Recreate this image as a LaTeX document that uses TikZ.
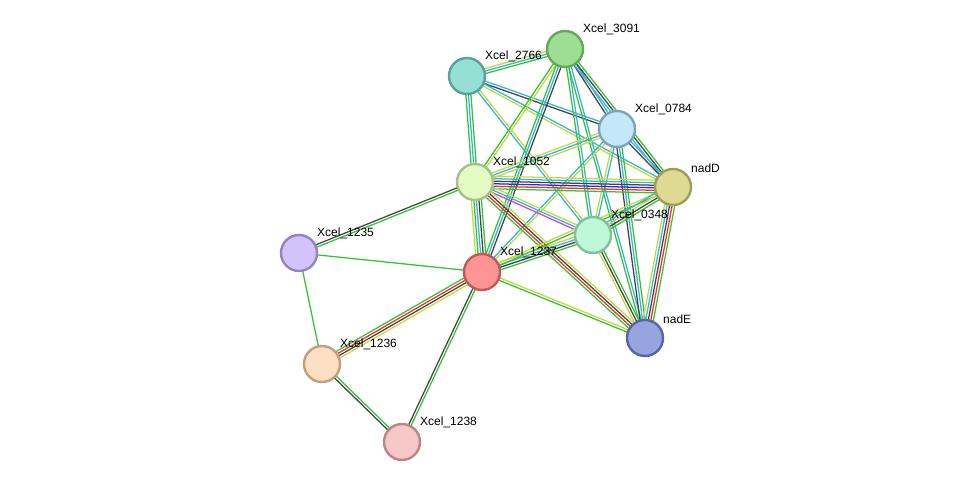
\documentclass[tikz,border=0pt]{standalone}
\usepackage{fontspec}
\setmainfont{Liberation Sans}
\usetikzlibrary{calc,backgrounds}
\definecolor{lkgreen}{HTML}{33C433}
\definecolor{lkyellow}{HTML}{C4D940}
\definecolor{lkcyan}{HTML}{33B5DB}
\definecolor{lkgray}{HTML}{444444}
\definecolor{lkred}{HTML}{F03030}
\definecolor{lkblue}{HTML}{2828E6}
\definecolor{lkpink}{HTML}{D840D8}

% one evidence channel per coloured line, side by side
\newcommand{\strlink}[3]{%
  \foreach \c [count=\k] in {#3}{\xdef\nlines{\k}}%
  \foreach \c [count=\k] in {#3}{%
    \pgfmathsetmacro{\off}{(\k-(\nlines+1)/2)*1.9}%
    \draw[link, \c] ($(#1)!\off pt!90:(#2)$) -- ($(#2)!\off pt!-90:(#1)$);
  }%
}

\begin{document}
\begin{tikzpicture}[
      x=0.75pt, y=-0.75pt,
      prot/.style={circle, minimum size=27pt, inner sep=0pt, line width=1.8pt,
                   label={[lbl]north east:#1}},
      lbl/.style={font=\fontsize{9pt}{10pt}\selectfont, text=black,
                  label distance=-0.6pt, inner sep=2.5pt,
                  xshift=1.2pt, yshift=-1.5pt},
      link/.style={line width=0.95pt},
    ]
      \useasboundingbox (0,0) rectangle (976,488);

      \node[prot=Xcel\_3091, fill={rgb,255:red,158;green,222;blue,148}, draw={rgb,255:red,100;green,168;blue,90}] (x3091) at (565,49) {};
      \node[prot=Xcel\_2766, fill={rgb,255:red,148;green,224;blue,212}, draw={rgb,255:red,90;green,163;blue,154}] (x2766) at (467,76) {};
      \node[prot=Xcel\_0784, fill={rgb,255:red,196;green,232;blue,250}, draw={rgb,255:red,127;green,163;blue,184}] (x0784) at (617,129) {};
      \node[prot=nadD, fill={rgb,255:red,222;green,218;blue,148}, draw={rgb,255:red,160;green,156;blue,90}] (nadD) at (673,187) {};
      \node[prot=Xcel\_1052, fill={rgb,255:red,226;green,252;blue,196}, draw={rgb,255:red,165;green,192;blue,138}] (x1052) at (475,182) {};
      \node[prot=Xcel\_0348, fill={rgb,255:red,191;green,247;blue,217}, draw={rgb,255:red,132;green,192;blue,156}] (x0348) at (593,235) {};
      \node[prot=Xcel\_1237, fill={rgb,255:red,255;green,148;blue,148}, draw={rgb,255:red,192;green,90;blue,90}] (x1237) at (482,272) {};
      \node[prot=Xcel\_1235, fill={rgb,255:red,210;green,196;blue,250}, draw={rgb,255:red,147;green,132;blue,192}] (x1235) at (299,253) {};
      \node[prot=nadE, fill={rgb,255:red,152;green,164;blue,224}, draw={rgb,255:red,90;green,100;blue,160}] (nadE) at (645,338) {};
      \node[prot=Xcel\_1236, fill={rgb,255:red,253;green,223;blue,194}, draw={rgb,255:red,192;green,160;blue,128}] (x1236) at (322,364) {};
      \node[prot=Xcel\_1238, fill={rgb,255:red,247;green,199;blue,199}, draw={rgb,255:red,184;green,136;blue,136}] (x1238) at (402,442) {};

      \begin{scope}[on background layer]
        \strlink{x2766}{x3091}{lkgreen,lkcyan,lkyellow}
        \strlink{x2766}{x0784}{lkgray,lkcyan}
        \strlink{x2766}{nadD}{lkyellow,lkcyan}
        \strlink{x2766}{x1052}{lkgreen,lkcyan,lkgreen}
        \strlink{x2766}{x0348}{lkcyan,lkyellow}

        \strlink{x3091}{x0784}{lkgray,lkcyan}
        \strlink{x3091}{nadD}{lkcyan,lkgray,lkgreen}
        \strlink{x3091}{x1052}{lkgreen,lkyellow}
        \strlink{x3091}{x1237}{lkgreen,lkcyan,lkgray}
        \strlink{x3091}{x0348}{lkgreen,lkcyan}
        \strlink{x3091}{nadE}{lkgreen,lkcyan}

        \strlink{x0784}{nadD}{lkgray,lkcyan}
        \strlink{x0784}{x1052}{lkyellow,lkcyan,lkyellow}
        \strlink{x0784}{x1237}{lkcyan,lkyellow}
        \strlink{x0784}{x0348}{lkyellow,lkcyan}
        \strlink{x0784}{nadE}{lkgray,lkcyan,lkgreen}

        \strlink{x1052}{nadD}{lkgreen,lkred,lkblue,lkgray,lkcyan,lkyellow}
        \strlink{x1052}{x0348}{lkpink,lkcyan,lkyellow}
        \strlink{x1052}{nadE}{lkgreen,lkred,lkgray,lkyellow}
        \strlink{x1052}{x1237}{lkyellow,lkgreen,lkcyan,lkgray,lkgreen}
        \strlink{x1052}{x1235}{lkgray,lkgreen}

        \strlink{x1237}{x0348}{lkgreen,lkgray,lkcyan,lkyellow}
        \strlink{x1237}{nadD}{lkgreen,lkyellow}
        \strlink{x1237}{nadE}{lkgreen,lkyellow}
        \strlink{x1237}{x1235}{lkgreen}
        \strlink{x1237}{x1236}{lkgreen,lkred,lkgray,lkyellow}
        \strlink{x1237}{x1238}{lkgray,lkgreen}

        \strlink{x0348}{nadD}{lkgreen,lkgray,lkyellow,lkcyan}
        \strlink{x0348}{nadE}{lkyellow,lkgray,lkgreen}
        \strlink{nadD}{nadE}{lkyellow,lkcyan,lkgray,lkred,lkgreen}
        \strlink{x1235}{x1236}{lkgreen}
        \strlink{x1236}{x1238}{lkgray,lkgreen}
      \end{scope}

    \end{tikzpicture}
\end{document}
